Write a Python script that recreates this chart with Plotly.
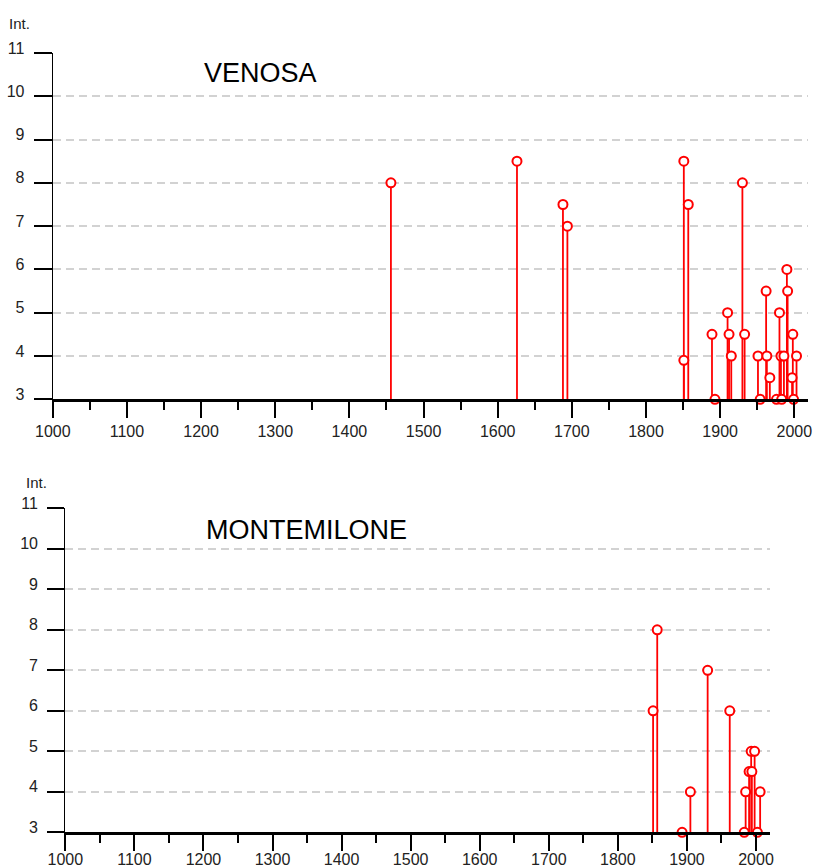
import plotly.graph_objects as go

# ---------------- data ----------------
venosa_years = [1456, 1626, 1688, 1694, 1851, 1851, 1857, 1889, 1893, 1910,
                1912, 1915, 1930, 1933, 1951, 1954, 1962, 1963, 1967, 1976,
                1980, 1982, 1983, 1986, 1990, 1991, 1997, 1998, 1999, 2003]
venosa_int = [8, 8.5, 7.5, 7, 8.5, 3.9, 7.5, 4.5, 3, 5,
              4.5, 4, 8, 4.5, 4, 3, 5.5, 4, 3.5, 3,
              5, 4, 3, 4, 6, 5.5, 3.5, 4.5, 3, 4]

montemilone_years = [1851, 1857, 1893, 1905, 1930, 1962, 1983, 1985, 1990,
                     1993, 1994, 1998, 2002, 2006]
montemilone_int = [6, 8, 3, 4, 7, 6, 3, 4, 4.5, 5, 4.5, 5, 3, 4]

x_tick_labels = [str(y) for y in range(1000, 2001, 100)]
x_tick_vals = list(range(1000, 2001, 100))
y_tick_vals = list(range(3, 12))
Y_MIN, Y_MAX = 3, 11
X_MIN = 1000

W, H = 816, 868
RED = "#ff0000"
FONT = "Liberation Sans, Arial, sans-serif"


def px(x):
    return x / W


def py(y):
    return 1 - y / H


def stems(years, vals):
    xs, ys = [], []
    for yr, v in zip(years, vals):
        xs += [yr, yr, None]
        ys += [Y_MIN, v, None]
    return xs, ys


fig = go.Figure()

panels = [
    dict(years=venosa_years, vals=venosa_int, xa="x", ya="y", name="VENOSA",
         xdom=(52.8, 808), x2000=794.3, ydom=(399.3, 53), ticklen_y=18,
         title_xy=(202, 73), int_xy=(7, 24), xstand=0),
    dict(years=montemilone_years, vals=montemilone_int, xa="x2", ya="y2",
         name="MONTEMILONE", xdom=(65.3, 770), x2000=756.0,
         ydom=(832.3, 508.3), ticklen_y=17, title_xy=(204, 530),
         int_xy=(24, 482), xstand=-5),
]

for i, p in enumerate(panels):
    sx, sy = stems(p["years"], p["vals"])
    fig.add_trace(go.Scatter(x=sx, y=sy, mode="lines", xaxis=p["xa"], yaxis=p["ya"],
                             line=dict(color=RED, width=1.8), hoverinfo="skip",
                             showlegend=False, cliponaxis=False))
    fig.add_trace(go.Scatter(x=p["years"], y=p["vals"], mode="markers",
                             xaxis=p["xa"], yaxis=p["ya"],
                             marker=dict(symbol="circle", size=9, color="white",
                                         line=dict(color=RED, width=2)),
                             showlegend=False, cliponaxis=False))

    x0, x1 = p["xdom"]
    ppy = (p["x2000"] - x0) / 1000.0
    xmax = 2000 + (x1 - p["x2000"]) / ppy
    suffix = "" if i == 0 else "2"
    fig.layout["xaxis" + suffix] = dict(
        domain=[px(x0), px(x1)], range=[X_MIN, xmax], anchor=p["ya"],
        tickmode="array", tickvals=x_tick_vals, ticktext=x_tick_labels,
        ticks="outside", ticklen=16, tickwidth=2, tickcolor="black",
        minor=dict(ticks="outside", ticklen=8, tickwidth=1.5, tickcolor="black",
                   tickmode="linear", tick0=1050, dtick=100, showgrid=False),
        showline=True, linewidth=2.5, linecolor="black",
        showgrid=False, zeroline=False, automargin=False,
        ticklabelstandoff=p["xstand"],
        tickfont=dict(family=FONT, size=16, color="#222"),
    )
    yb, yt = p["ydom"]
    fig.layout["yaxis" + suffix] = dict(
        domain=[py(yb), py(yt)], range=[Y_MIN, Y_MAX], anchor=p["xa"],
        tickmode="array", tickvals=y_tick_vals,
        ticks="outside", ticklen=p["ticklen_y"], tickwidth=2, tickcolor="black",
        showline=True, linewidth=1.3, linecolor="black",
        showgrid=True, gridcolor="#d2d2d2", gridwidth=1.5, griddash="8px,5px",
        zeroline=False, automargin=False,
        ticklabelstandoff=6, ticklabelshift=-5,
        tickfont=dict(family=FONT, size=16, color="#222"),
    )
    tx, ty = p["title_xy"]
    fig.add_annotation(text=p["name"], x=px(tx), y=py(ty), xref="paper", yref="paper",
                       xanchor="left", yanchor="middle", showarrow=False,
                       font=dict(family=FONT, size=27, color="black"))
    ix, iy = p["int_xy"]
    fig.add_annotation(text="Int.", x=px(ix), y=py(iy), xref="paper", yref="paper",
                       xanchor="left", yanchor="middle", showarrow=False,
                       font=dict(family=FONT, size=15, color="#222"))

fig.update_layout(width=W, height=H, margin=dict(l=0, r=0, t=0, b=0),
                  template="none", paper_bgcolor="white", plot_bgcolor="white",
                  showlegend=False)

fig.write_html("out.html")
